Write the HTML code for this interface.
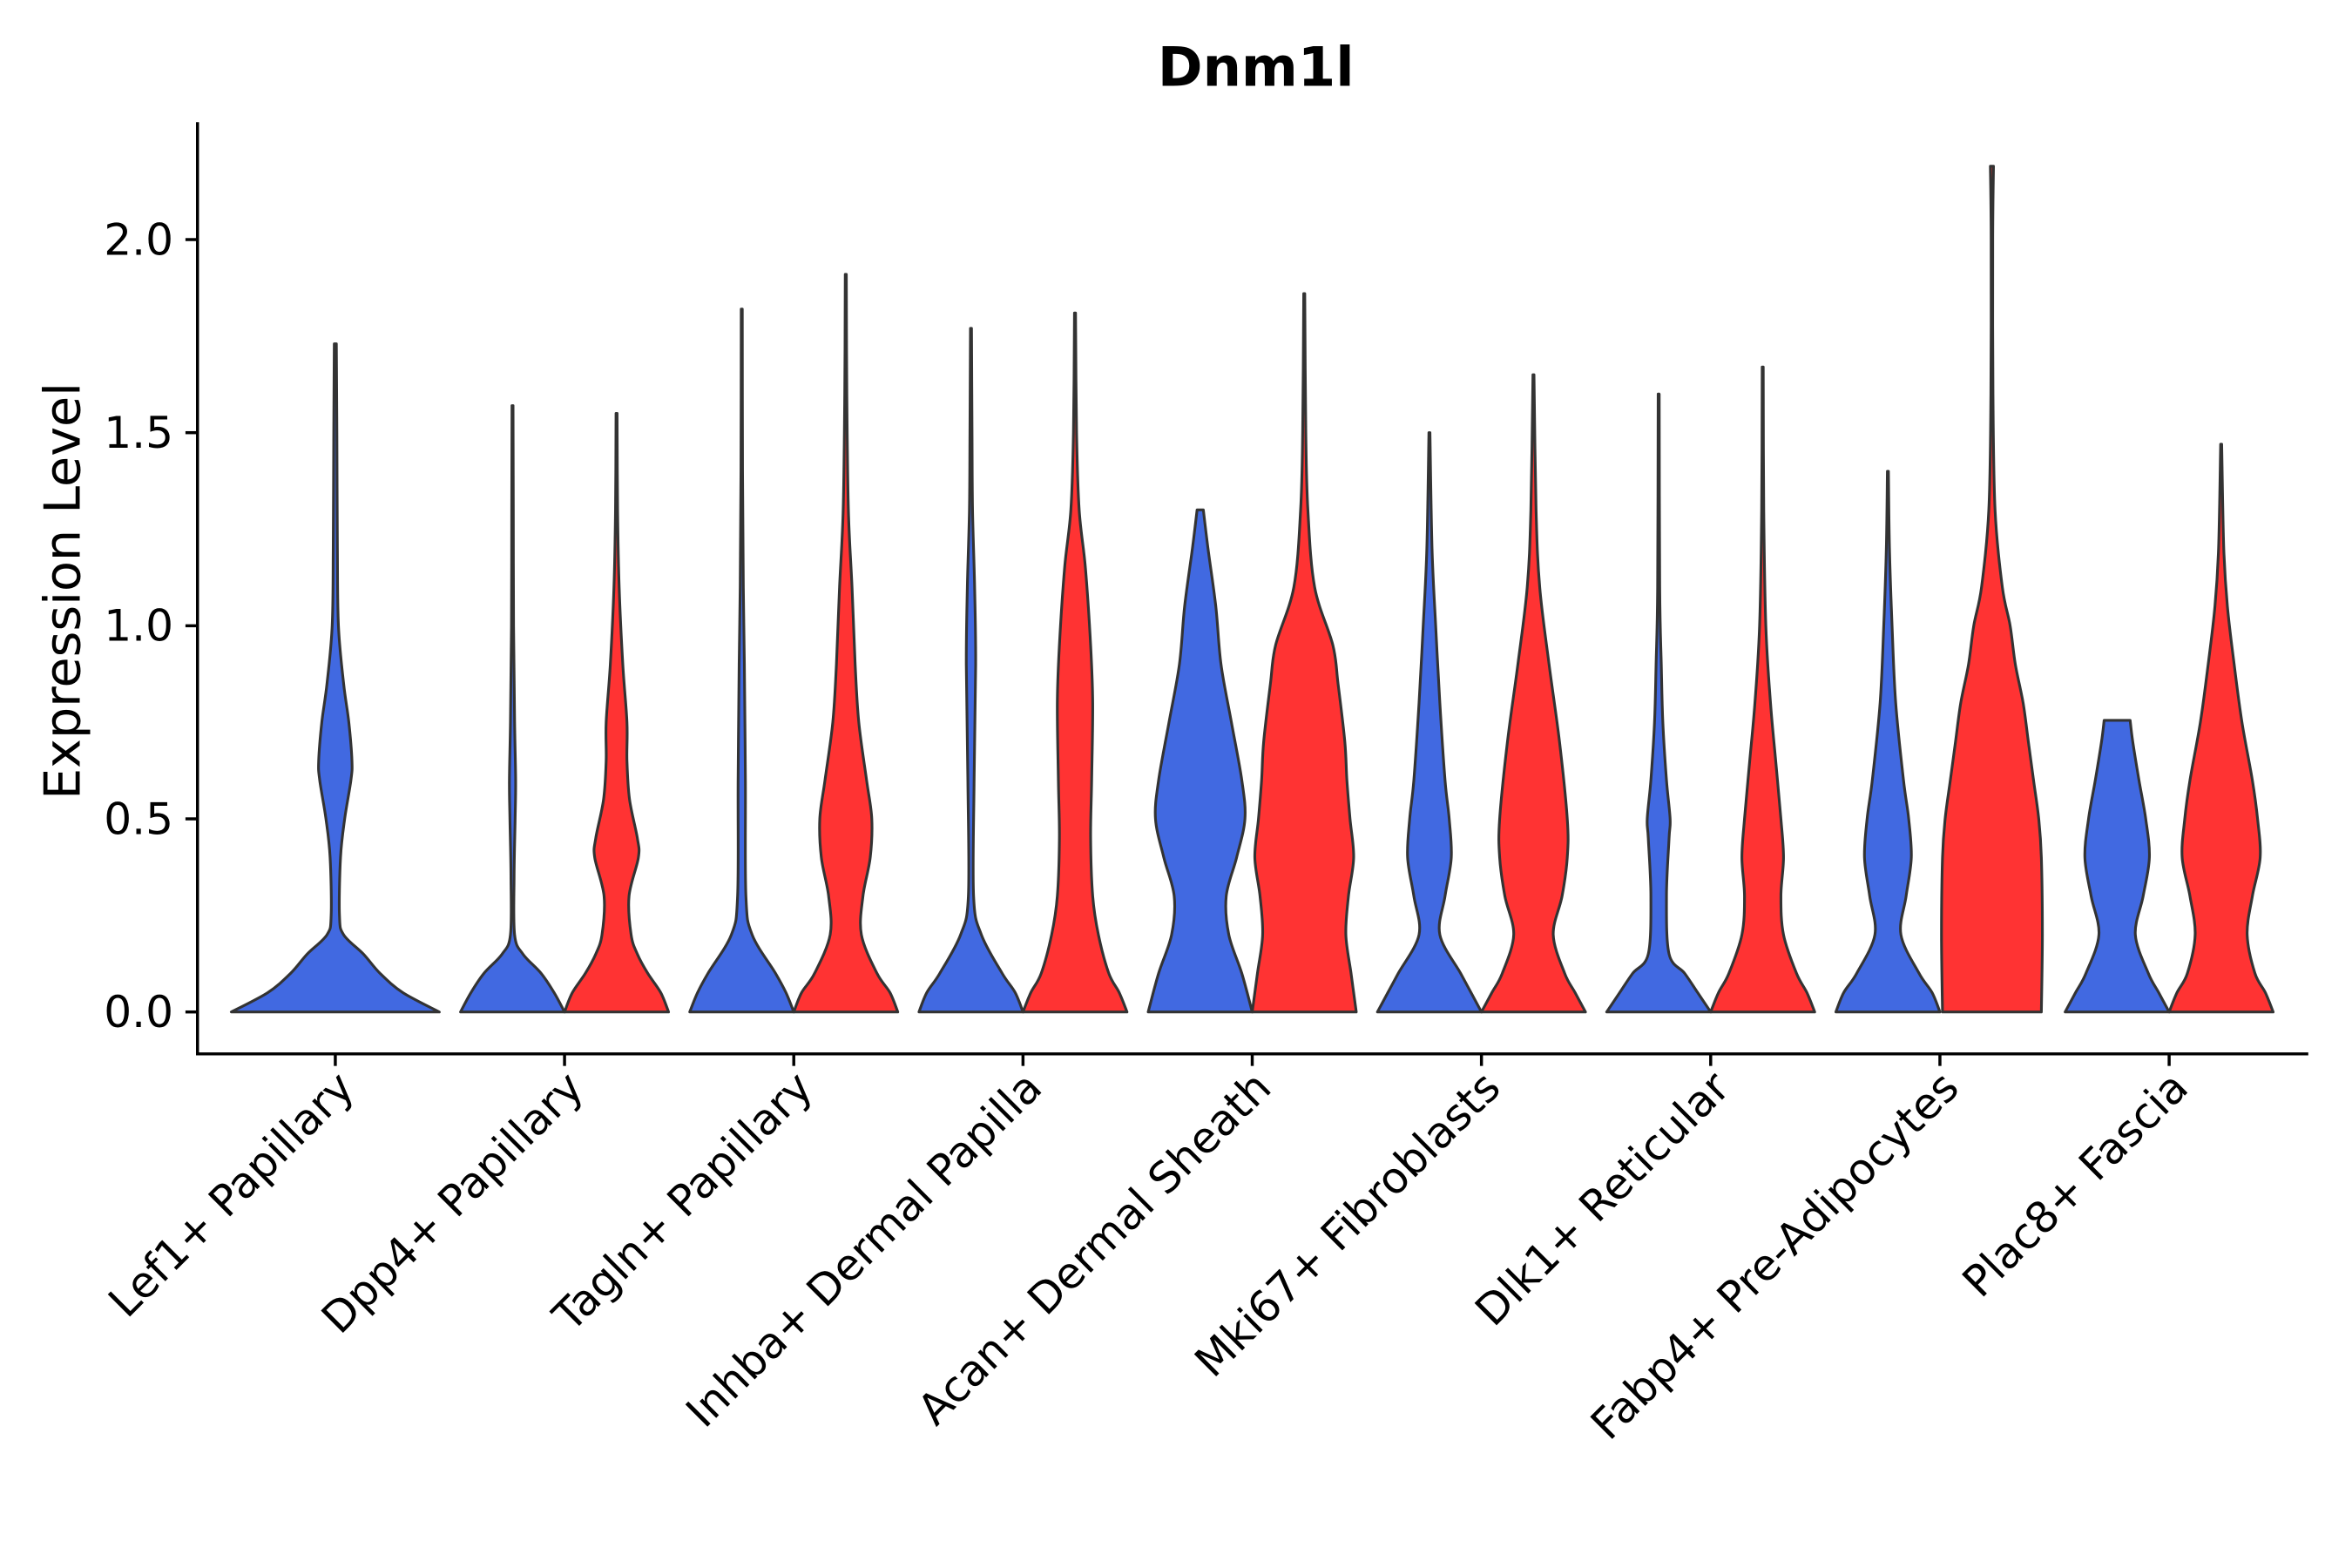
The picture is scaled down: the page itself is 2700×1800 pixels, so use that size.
<!DOCTYPE html>
<html><head><meta charset="utf-8"><style>
html,body{margin:0;padding:0;background:#fff;}
svg{display:block;font-family:"DejaVu Sans","Liberation Sans",sans-serif;}
</style></head><body>
<svg id="chart" width="2700" height="1800" viewBox="0 0 1560 1040" xmlns="http://www.w3.org/2000/svg">
<rect width="1560" height="1040" fill="#fff"/>
<text x="833" y="57" text-anchor="middle" font-size="36" font-weight="bold" fill="#000">Dnm1l</text>
<g id="violins"></g>
<line x1="131" y1="81" x2="131" y2="699" stroke="#000" stroke-width="2"/>
<line x1="130" y1="699" x2="1531" y2="699" stroke="#000" stroke-width="2"/>
<g id="yticks"></g>
<g id="xticks"></g>
<text transform="translate(53,392) rotate(-90)" text-anchor="middle" font-size="33" fill="#000">Expression Level</text>
</svg>
<script>
const categories = ["Lef1+ Papillary","Dpp4+ Papillary","Tagln+ Papillary","Inhba+ Dermal Papilla","Acan+ Dermal Sheath","Mki67+ Fibroblasts","Dlk1+ Reticular","Fabp4+ Pre-Adipocytes","Plac8+ Fascia"];
const yTicks = [0.0, 0.5, 1.0, 1.5, 2.0];
const yTickLabels = ["0.0","0.5","1.0","1.5","2.0"];
// density profiles: [expression value, relative width]
const blueProfiles = [
 [[0,1],[0.05,.65],[0.1,.43],[0.15,.27],[0.2,.08],[0.25,.04],[0.4,.05],[0.5,.09],[0.6,.15],[0.65,.16],[0.75,.13],[0.85,.08],[1.0,.03],[1.2,.02],[1.5,.015],[1.73,.01]],
 [[0,1],[0.05,.8],[0.1,.55],[0.15,.2],[0.2,.04],[0.35,.03],[0.5,.05],[0.6,.06],[0.75,.04],[1.0,.02],[1.3,.015],[1.57,.01]],
 [[0,1],[0.05,.85],[0.1,.65],[0.2,.2],[0.3,.08],[0.6,.07],[0.9,.05],[1.1,.03],[1.4,.015],[1.82,.01]],
 [[0,1],[0.05,.85],[0.1,.6],[0.2,.2],[0.3,.05],[0.6,.06],[0.9,.09],[1.1,.07],[1.3,.03],[1.5,.02],[1.77,.01]],
 [[0,1],[0.1,.8],[0.2,.55],[0.3,.5],[0.4,.7],[0.5,.86],[0.6,.8],[0.75,.6],[0.9,.4],[1.05,.3],[1.2,.15],[1.3,.06]],
 [[0,1],[0.05,.8],[0.1,.6],[0.2,.2],[0.3,.3],[0.4,.42],[0.5,.38],[0.6,.3],[0.8,.2],[1.0,.12],[1.2,.05],[1.5,.01]],
 [[0,1],[0.05,.75],[0.1,.5],[0.15,.2],[0.3,.15],[0.45,.2],[0.5,.22],[0.6,.15],[0.75,.08],[0.9,.05],[1.1,.02],[1.6,.01]],
 [[0,1],[0.05,.85],[0.1,.6],[0.2,.25],[0.3,.35],[0.4,.45],[0.5,.4],[0.6,.3],[0.8,.15],[1.0,.08],[1.2,.03],[1.4,.01]],
 [[0,1],[0.05,.8],[0.1,.6],[0.2,.35],[0.3,.5],[0.4,.62],[0.5,.55],[0.6,.42],[0.7,.3],[0.755,.25]]
];
const redProfiles = [
 null,
 [[0,1],[0.05,.85],[0.1,.6],[0.15,.4],[0.2,.28],[0.3,.24],[0.4,.42],[0.45,.4],[0.55,.25],[0.65,.2],[0.75,.2],[0.9,.12],[1.1,.05],[1.3,.02],[1.55,.01]],
 [[0,1],[0.05,.85],[0.1,.6],[0.2,.3],[0.3,.33],[0.4,.47],[0.5,.5],[0.6,.4],[0.75,.25],[0.9,.18],[1.1,.12],[1.3,.05],[1.6,.02],[1.91,.01]],
 [[0,1],[0.05,.85],[0.1,.65],[0.2,.45],[0.3,.34],[0.45,.3],[0.6,.32],[0.8,.34],[0.95,.3],[1.15,.2],[1.3,.08],[1.5,.03],[1.81,.01]],
 [[0,1],[0.1,.9],[0.2,.8],[0.3,.85],[0.4,.95],[0.5,.88],[0.6,.82],[0.7,.78],[0.85,.65],[0.95,.55],[1.1,.2],[1.3,.07],[1.5,.03],[1.86,.01]],
 [[0,1],[0.05,.8],[0.1,.6],[0.2,.38],[0.3,.55],[0.4,.65],[0.5,.65],[0.7,.5],[0.9,.3],[1.1,.12],[1.3,.05],[1.65,.01]],
 [[0,1],[0.05,.85],[0.1,.65],[0.2,.4],[0.3,.35],[0.4,.4],[0.5,.35],[0.65,.25],[0.8,.15],[1.0,.06],[1.3,.02],[1.67,.01]],
 [[0,.95],[0.2,.97],[0.4,.95],[0.5,.9],[0.6,.8],[0.7,.7],[0.8,.6],[0.9,.45],[1.0,.35],[1.1,.2],[1.3,.06],[1.6,.02],[2.0,.015],[2.19,.03]],
 [[0,1],[0.05,.85],[0.1,.65],[0.2,.5],[0.3,.6],[0.4,.75],[0.5,.7],[0.6,.6],[0.75,.4],[0.9,.25],[1.05,.12],[1.2,.05],[1.47,.01]]
];

const NS = "http://www.w3.org/2000/svg";
const y0px = 671.2, pxPerUnit = 256.15;
function yScale(v){ return y0px - v * pxPerUnit; }
function xScale(i){ return 222.4 + i * 152.04; }
const HALF = 34.5;

function smoothSeg(pts){
  let d = "";
  for (let k = 0; k < pts.length - 1; k++){
    const p0 = pts[Math.max(k-1,0)], p1 = pts[k], p2 = pts[k+1], p3 = pts[Math.min(k+2,pts.length-1)];
    const c1 = [p1[0] + (p2[0]-p0[0])/6, p1[1] + (p2[1]-p0[1])/6];
    const c2 = [p2[0] - (p3[0]-p1[0])/6, p2[1] - (p3[1]-p1[1])/6];
    d += "C" + c1[0].toFixed(2)+","+c1[1].toFixed(2)+" "+c2[0].toFixed(2)+","+c2[1].toFixed(2)+" "+p2[0].toFixed(2)+","+p2[1].toFixed(2);
  }
  return d;
}
function violinPath(cx, prof, maxHalf){
  const right = prof.map(p => [cx + p[1]*maxHalf, yScale(p[0])]);
  const left = prof.slice().reverse().map(p => [cx - p[1]*maxHalf, yScale(p[0])]);
  let d = "M" + right[0][0].toFixed(2) + "," + right[0][1].toFixed(2) + smoothSeg(right);
  d += "L" + left[0][0].toFixed(2) + "," + left[0][1].toFixed(2) + smoothSeg(left) + "Z";
  return d;
}
const vg = document.getElementById("violins");
categories.forEach((c, i) => {
  const cx = xScale(i);
  const red = redProfiles[i];
  const groups = [];
  if (red) { groups.push(["blue", blueProfiles[i], cx - 34.5, HALF, "#4169E1"]); groups.push(["red", red, cx + 34.5, HALF, "#FF3333"]); }
  else { groups.push(["blue", blueProfiles[i], cx, HALF*2, "#4169E1"]); }
  groups.forEach(g => {
    const p = document.createElementNS(NS, "path");
    p.setAttribute("d", violinPath(g[2], g[1], g[3]));
    p.setAttribute("fill", g[4]);
    p.setAttribute("stroke", "#333");
    p.setAttribute("stroke-width", "1.8");
    p.setAttribute("stroke-linejoin", "round");
    
    
    vg.appendChild(p);
  });
});
const yt = document.getElementById("yticks");
yTicks.forEach((v, i) => {
  const l = document.createElementNS(NS, "line");
  l.setAttribute("x1", 123); l.setAttribute("x2", 131);
  l.setAttribute("y1", yScale(v)); l.setAttribute("y2", yScale(v));
  l.setAttribute("stroke", "#000"); l.setAttribute("stroke-width", "2");
  
  
  yt.appendChild(l);
  const t = document.createElementNS(NS, "text");
  t.setAttribute("x", 115); t.setAttribute("y", yScale(v) + 10);
  t.setAttribute("text-anchor", "end"); t.setAttribute("font-size", "29"); t.setAttribute("fill", "#000");
  t.textContent = yTickLabels[i];
  
  
  yt.appendChild(t);
});
const xt = document.getElementById("xticks");
categories.forEach((c, i) => {
  const x = xScale(i);
  const l = document.createElementNS(NS, "line");
  l.setAttribute("x1", x); l.setAttribute("x2", x);
  l.setAttribute("y1", 699); l.setAttribute("y2", 707);
  l.setAttribute("stroke", "#000"); l.setAttribute("stroke-width", "2");
  
  
  xt.appendChild(l);
  const t = document.createElementNS(NS, "text");
  t.setAttribute("transform", "translate(" + (x + 14) + ",723) rotate(-45)");
  t.setAttribute("text-anchor", "end"); t.setAttribute("font-size", "28.5"); t.setAttribute("fill", "#000");
  t.textContent = c;
  
  
  xt.appendChild(t);
});
</script>
</body></html>
